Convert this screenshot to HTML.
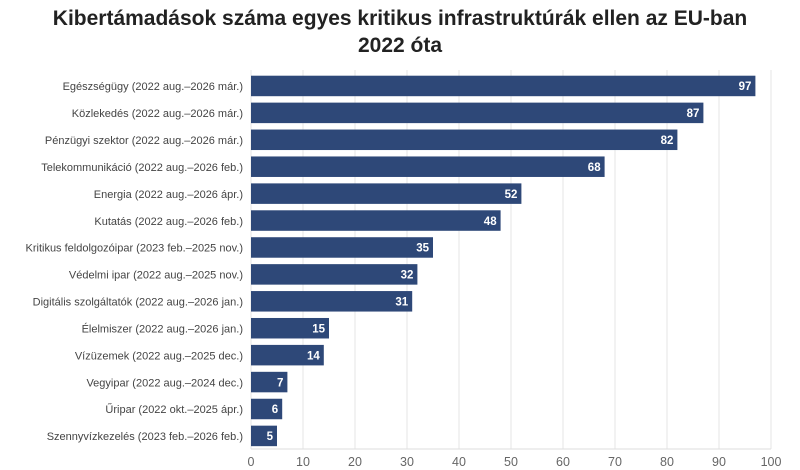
<!DOCTYPE html>
<html><head><meta charset="utf-8"><style>
body{margin:0;background:#fff;}
svg{display:block;font-family:"Liberation Sans",sans-serif;}
</style></head><body>
<svg width="800" height="470" viewBox="0 0 800 470">
<text x="400" y="25" text-anchor="middle" font-size="21" font-weight="bold" fill="#222">Kibertámadások száma egyes kritikus infrastruktúrák ellen az EU-ban</text>
<text x="400" y="52" text-anchor="middle" font-size="21" font-weight="bold" fill="#222">2022 óta</text>
<g stroke="#e6e6e6" stroke-width="1">
<line x1="303" y1="70" x2="303" y2="449"/><line x1="355" y1="70" x2="355" y2="449"/>
<line x1="407" y1="70" x2="407" y2="449"/><line x1="459" y1="70" x2="459" y2="449"/>
<line x1="511" y1="70" x2="511" y2="449"/><line x1="563" y1="70" x2="563" y2="449"/>
<line x1="615" y1="70" x2="615" y2="449"/><line x1="667" y1="70" x2="667" y2="449"/>
<line x1="719" y1="70" x2="719" y2="449"/><line x1="771" y1="70" x2="771" y2="449"/>
<line x1="251" y1="70" x2="251" y2="449"/>
</g>
<line x1="251" y1="449" x2="771" y2="449" stroke="#ddd"/>
<g font-size="12.5" fill="#666" text-anchor="middle">
<text x="251" y="466">0</text><text x="303" y="466">10</text><text x="355" y="466">20</text><text x="407" y="466">30</text><text x="459" y="466">40</text><text x="511" y="466">50</text><text x="563" y="466">60</text><text x="615" y="466">70</text><text x="667" y="466">80</text><text x="719" y="466">90</text><text x="771" y="466">100</text>
</g>
<g id="bars"></g>
</svg>
<script>
var d=[["Egészségügy (2022 aug.–2026 már.)",97],["Közlekedés (2022 aug.–2026 már.)",87],["Pénzügyi szektor (2022 aug.–2026 már.)",82],["Telekommunikáció (2022 aug.–2026 feb.)",68],["Energia (2022 aug.–2026 ápr.)",52],["Kutatás (2022 aug.–2026 feb.)",48],["Kritikus feldolgozóipar (2023 feb.–2025 nov.)",35],["Védelmi ipar (2022 aug.–2025 nov.)",32],["Digitális szolgáltatók (2022 aug.–2026 jan.)",31],["Élelmiszer (2022 aug.–2026 jan.)",15],["Vízüzemek (2022 aug.–2025 dec.)",14],["Vegyipar (2022 aug.–2024 dec.)",7],["Űripar (2022 okt.–2025 ápr.)",6],["Szennyvízkezelés (2023 feb.–2026 feb.)",5]];
var g=document.getElementById("bars"),s="";
d.forEach(function(r,i){var y=75.7+i*26.92,w=r[1]*5.2;
s+='<rect x="251" y="'+y+'" width="'+w+'" height="20.5" fill="#2e4878"/>';
s+='<text x="'+(251+w-4)+'" y="'+(y+14.5)+'" text-anchor="end" font-size="11.5" font-weight="bold" fill="#fff">'+r[1]+'</text>';
s+='<text x="243" y="'+(y+14.5)+'" text-anchor="end" font-size="11" fill="#444">'+r[0]+'</text>';});
g.innerHTML=s;
</script>
</body></html>
